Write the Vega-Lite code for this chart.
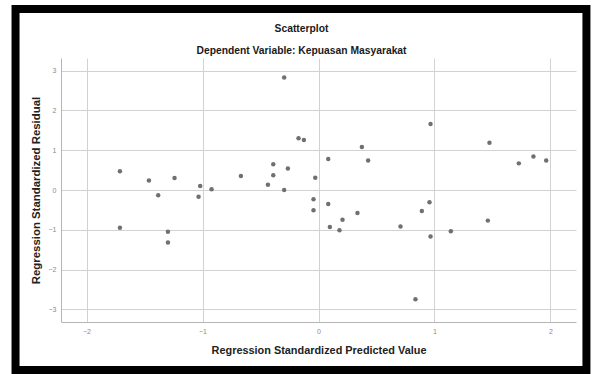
{
  "$schema": "https://vega.github.io/schema/vega-lite/v6.json",
  "width": 515,
  "height": 264,
  "autosize": "none",
  "padding": {"left": 61, "top": 58, "right": 16, "bottom": 52},
  "background": "white",
  "title": {
    "text": "Scatterplot",
    "subtitle": "Dependent Variable: Kepuasan Masyarakat",
    "anchor": "middle",
    "dx": -17,
    "font": "Liberation Sans",
    "subtitleFont": "Liberation Sans",
    "fontSize": 10.3,
    "subtitleFontSize": 10.3,
    "fontWeight": "bold",
    "subtitleFontWeight": "bold",
    "color": "#1a1a1a",
    "subtitleColor": "#1a1a1a",
    "subtitlePadding": 11,
    "offset": -51
  },
  "config": {"view": {"stroke": null}},
  "data": {
    "values": [
      {"predicted": -1.712, "residual": 0.47},
      {"predicted": -1.462, "residual": 0.24},
      {"predicted": -1.382, "residual": -0.13},
      {"predicted": -1.241, "residual": 0.30},
      {"predicted": -1.020, "residual": 0.10},
      {"predicted": -1.034, "residual": -0.17},
      {"predicted": -0.922, "residual": 0.02},
      {"predicted": -0.669, "residual": 0.35},
      {"predicted": -0.436, "residual": 0.13},
      {"predicted": -0.390, "residual": 0.65},
      {"predicted": -0.390, "residual": 0.37},
      {"predicted": -0.264, "residual": 0.54},
      {"predicted": -0.296, "residual": 0.00},
      {"predicted": -1.712, "residual": -0.95},
      {"predicted": -1.298, "residual": -1.05},
      {"predicted": -1.298, "residual": -1.32},
      {"predicted": 0.966, "residual": 1.66},
      {"predicted": -0.172, "residual": 1.30},
      {"predicted": -0.126, "residual": 1.26},
      {"predicted": 0.374, "residual": 1.08},
      {"predicted": 0.084, "residual": 0.78},
      {"predicted": 0.428, "residual": 0.74},
      {"predicted": 1.474, "residual": 1.19},
      {"predicted": 1.727, "residual": 0.67},
      {"predicted": 1.853, "residual": 0.84},
      {"predicted": 1.963, "residual": 0.74},
      {"predicted": -0.028, "residual": 0.31},
      {"predicted": -0.043, "residual": -0.23},
      {"predicted": -0.043, "residual": -0.51},
      {"predicted": 0.084, "residual": -0.35},
      {"predicted": 0.098, "residual": -0.93},
      {"predicted": 0.181, "residual": -1.01},
      {"predicted": 0.207, "residual": -0.75},
      {"predicted": 0.336, "residual": -0.58},
      {"predicted": 0.707, "residual": -0.92},
      {"predicted": 0.891, "residual": -0.53},
      {"predicted": 0.957, "residual": -0.31},
      {"predicted": 0.966, "residual": -1.17},
      {"predicted": 1.141, "residual": -1.04},
      {"predicted": 1.460, "residual": -0.77},
      {"predicted": -0.296, "residual": 2.83},
      {"predicted": 0.836, "residual": -2.75}
    ]
  },
  "layer": [
    {
      "mark": {"type": "point", "filled": true, "size": 20, "color": "#707070", "opacity": 1},
      "encoding": {
        "x": {
          "field": "predicted",
          "type": "quantitative",
          "scale": {"domain": [-2.22, 2.22], "nice": false, "zero": false},
          "axis": {
            "title": "Regression Standardized Predicted Value",
            "values": [-2, -1, 0, 1, 2],
            "format": "d",
            "grid": true,
            "gridColor": "#d2d2d2",
            "ticks": false,
            "labelPadding": 5,
            "labelFont": "Liberation Sans",
            "labelFontSize": 7,
            "labelColor": "#8a8a8a",
            "domainColor": "#b5b5b5",
            "titleFont": "Liberation Sans",
            "titleFontSize": 10.9,
            "titleFontWeight": "bold",
            "titleColor": "#222222",
            "titlePadding": 10
          }
        },
        "y": {
          "field": "residual",
          "type": "quantitative",
          "scale": {"domain": [-3.32, 3.32], "nice": false, "zero": false},
          "axis": {
            "title": "Regression Standardized Residual",
            "values": [-3, -2, -1, 0, 1, 2, 3],
            "format": "d",
            "grid": true,
            "gridColor": "#d2d2d2",
            "ticks": false,
            "labelPadding": 5,
            "labelFont": "Liberation Sans",
            "labelFontSize": 7,
            "labelColor": "#8a8a8a",
            "domainColor": "#b5b5b5",
            "titleFont": "Liberation Sans",
            "titleFontSize": 11.4,
            "titleFontWeight": "bold",
            "titleColor": "#222222",
            "titlePadding": 7
          }
        }
      }
    },
    {
      "data": {"values": [{}]},
      "mark": {"type": "rect", "fill": null, "stroke": "black", "strokeWidth": 8, "clip": false},
      "encoding": {
        "x": {"datum": -2.612, "type": "quantitative", "scale": {"domain": [-2.22, 2.22], "nice": false, "zero": false}},
        "x2": {"datum": 2.31},
        "y": {"datum": 4.552, "type": "quantitative", "scale": {"domain": [-3.32, 3.32], "nice": false, "zero": false}},
        "y2": {"datum": -4.527}
      }
    }
  ]
}
